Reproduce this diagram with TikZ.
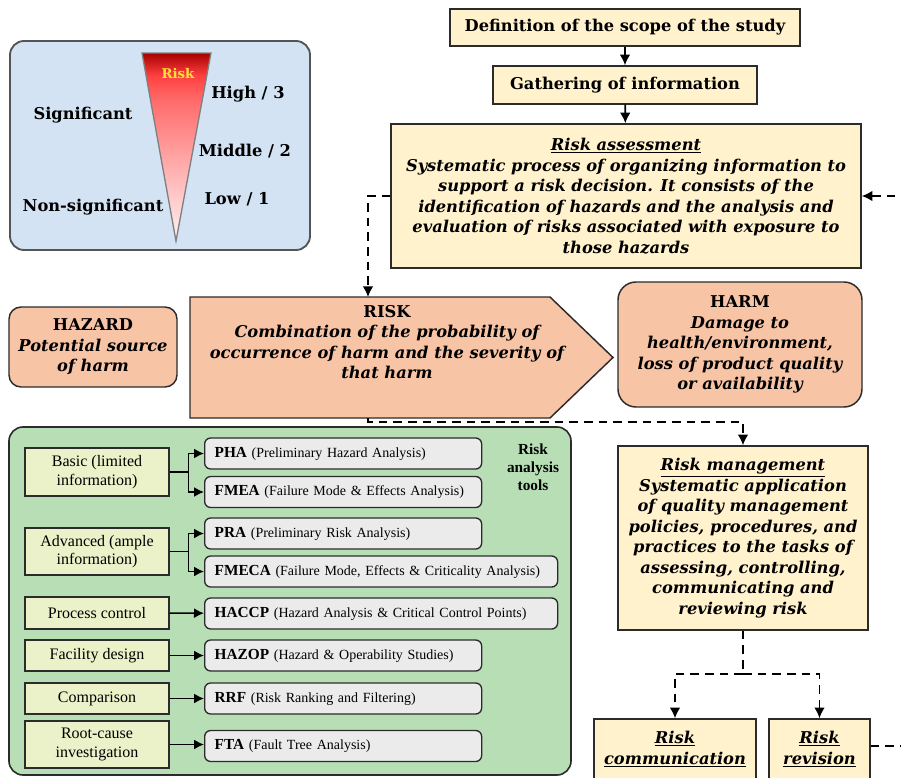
\documentclass[tikz,border=0pt]{standalone}
\usepackage{fontspec}
\setmainfont{DejaVu Serif}
\newfontfamily\toolfont{Liberation Serif}
\usetikzlibrary{arrows.meta}
\newlength\px
\setlength\px{0.75pt}
\definecolor{sand}{HTML}{FFF2CC}
\definecolor{salmon}{HTML}{F8C4A6}
\definecolor{sky}{HTML}{D3E3F3}
\definecolor{leaf}{HTML}{B8DEB5}
\definecolor{lime}{HTML}{EBF1C8}
\definecolor{ash}{HTML}{EBEBEB}
\definecolor{ink}{HTML}{2B2B2B}
\definecolor{gold}{HTML}{FFE23A}
\pgfdeclareverticalshading{riskfade}{100bp}{color(0bp)=(white!95!red); color(25bp)=(white!95!red); color(36bp)=(white!80!red); color(49bp)=(white!62!red); color(62.5bp)=(white!42!red); color(69bp)=(white!25!red); color(75bp)=(black!35!red); color(100bp)=(black!35!red)}
\tikzstyle{big} = [font=\fontsize{12.2}{15.4}\selectfont\bfseries]
\tikzstyle{stage} = [rectangle, draw=ink, line width=1.1pt, fill=sand, align=center, inner sep=0pt, big]
\tikzstyle{concept} = [rectangle, rounded corners=12\px, draw=ink, line width=1.1pt, fill=salmon, align=center, inner sep=0pt, big]
\tikzstyle{usecase} = [rectangle, draw=ink, line width=1pt, fill=lime, align=center, inner sep=0pt, minimum width=144\px, font=\toolfont\fontsize{12}{14}\selectfont]
\tikzstyle{tool} = [rectangle, rounded corners=6\px, draw=ink, line width=1pt, fill=ash, anchor=west, align=left, inner xsep=10\px, inner ysep=0pt, minimum height=31\px, text width=257\px, font=\toolfont\fontsize{10.5}{12}\selectfont]
\tikzstyle{wide} = [text width=333\px]
\tikzstyle{edge} = [line width=1.4pt, -{Latex[length=8pt, width=8pt]}]
\tikzstyle{link} = [edge, dash pattern=on 6.5pt off 4.5pt]
\tikzstyle{branch} = [line width=1.2pt, -{Latex[length=7.5pt, width=7.5pt]}]
\newcommand{\acr}[1]{{\bfseries\fontsize{11.5}{12}\selectfont #1}\ }

\begin{document}
\begin{tikzpicture}[x=0.75pt, y=-0.75pt]
\useasboundingbox (0,0) rectangle (901,778);
\clip (0,0) rectangle (901,778);
\fill[white] (0,0) rectangle (901,778);

\node (9) [rectangle, rounded corners=14\px, draw=ink!80, line width=1.4pt, fill=sky, minimum width=300\px, minimum height=209\px] at (160,145.5) {};
\shade[shading=riskfade] (142,53) -- (211,53) -- (176,241) -- cycle;
\draw[gray, line width=1pt] (142,53) -- (211,53) -- (176,241) -- cycle;
\node (25) [big, text=gold, font=\fontsize{10}{12}\selectfont\bfseries] at (178,74) {Risk};
\node (26) [big] at (248,94) {High / 3};
\node (27) [big] at (245,151) {Middle / 2};
\node (28) [big] at (237,199) {Low / 1};
\node (29) [big] at (83,115) {Significant};
\node (30) [big] at (93,207) {Non-significant};

\node (0) [stage, minimum width=350\px, minimum height=37\px] at (625,27.5) {Definition of the scope of the study};
\node (1) [stage, minimum width=264\px, minimum height=38\px] at (625,85) {Gathering of information};
\node (2) [stage, minimum width=470\px, minimum height=144\px, font=\fontsize{12.2}{15.4}\selectfont\bfseries\itshape] at (626,196) {\underline{Risk assessment}\\ Systematic process of organizing information to\\ support a risk decision. It consists of the\\ identification of hazards and the analysis and\\ evaluation of risks associated with exposure to\\ those hazards};

\node (4) [concept, minimum width=168\px, minimum height=80\px] at (93,347) {HAZARD\\ \itshape Potential source\\ \itshape of harm};
\filldraw[fill=salmon, draw=ink, line width=1.1pt] (190,297) -- (550,297) -- (613,357.5) -- (550,418) -- (190,418) -- cycle;
\node (3) [big, align=center] at (387,342) {RISK\\ \itshape Combination of the probability of\\ \itshape occurrence of harm and the severity of\\ \itshape that harm};
\coordinate (rskin) at (368,297);
\coordinate (rskout) at (368,418);
\node (5) [concept, rounded corners=18\px, minimum width=244\px, minimum height=125\px] at (740,344.5) {HARM\\ \itshape Damage to\\ \itshape health/environment,\\ \itshape loss of product quality\\ \itshape or availability};

\node (6) [stage, minimum width=250\px, minimum height=184\px, font=\fontsize{12.2}{15.4}\selectfont\bfseries\itshape] at (743,538) {\underline{Risk management}\\ Systematic application\\ of quality management\\ policies, procedures, and\\ practices to the tasks of\\ assessing, controlling,\\ communicating and\\ reviewing risk};
\node (7) [stage, minimum width=162\px, minimum height=60\px, font=\fontsize{12.2}{15.4}\selectfont\bfseries\itshape] at (675,749) {\underline{Risk}\\ \underline{communication}};
\node (8) [stage, minimum width=101\px, minimum height=60\px, font=\fontsize{12.2}{15.4}\selectfont\bfseries\itshape] at (819.5,749) {\underline{Risk}\\ \underline{revision}};

\node (10) [rectangle, rounded corners=14\px, draw=ink, line width=1.2pt, fill=leaf, minimum width=562\px, minimum height=348\px] at (290,601) {};
\node (31) [align=center, font=\toolfont\fontsize{11.5}{13.5}\selectfont\bfseries] at (533,467) {Risk\\ analysis\\ tools};

\node (11) [usecase, minimum height=48\px] at (97,472) {Basic (limited\\ information)};
\node (12) [usecase, minimum height=47\px] at (97,551.5) {Advanced (ample\\ information)};
\node (13) [usecase, minimum height=32\px] at (97,613) {Process control};
\node (14) [usecase, minimum height=31\px] at (97,655.5) {Facility design};
\node (15) [usecase, minimum height=31\px] at (97,698.5) {Comparison};
\node (16) [usecase, minimum height=47\px] at (97,744.5) {Root-cause\\ investigation};

\node (17) [tool] at (204,453.5) {\acr{PHA}(Preliminary Hazard Analysis)};
\node (18) [tool] at (204,492) {\acr{FMEA}(Failure Mode \& Effects Analysis)};
\node (19) [tool] at (204,533.5) {\acr{PRA}(Preliminary Risk Analysis)};
\node (20) [tool, wide] at (204,571.5) {\acr{FMECA}(Failure Mode, Effects \& Criticality Analysis)};
\node (21) [tool, wide] at (204,613.5) {\acr{HACCP}(Hazard Analysis \& Critical Control Points)};
\node (22) [tool] at (204,655.5) {\acr{HAZOP}(Hazard \& Operability Studies)};
\node (23) [tool] at (204,698.5) {\acr{RRF}(Risk Ranking and Filtering)};
\node (24) [tool] at (204,746) {\acr{FTA}(Fault Tree Analysis)};

\draw [edge] (0) -- (1);
\draw [edge] (1) -- (2);
\draw [link] (2.west) -| (rskin);
\draw [link] (rskout) -- ++(0,4) -| (6.north);
\draw [link, -] (6.south) -- ++(0,43) coordinate (fork);
\draw [link] (fork) -| (7.north);
\draw [link] (fork) -| (8.north);
\draw [link] (8.east) ++(0,-3) -- ++(60,0) |- (2.east);

\draw [branch] (11.east) -- ++(19,0) |- (17);
\draw [branch] (11.east) -- ++(19,0) |- (18);
\draw [branch] (12.east) -- ++(19,0) |- (19);
\draw [branch] (12.east) -- ++(19,0) |- (20);
\draw [branch] (13) -- (21);
\draw [branch] (14) -- (22);
\draw [branch] (15) -- (23);
\draw [branch] (16.east) -- (24.west |- 16.east);

\end{tikzpicture}
\end{document}
